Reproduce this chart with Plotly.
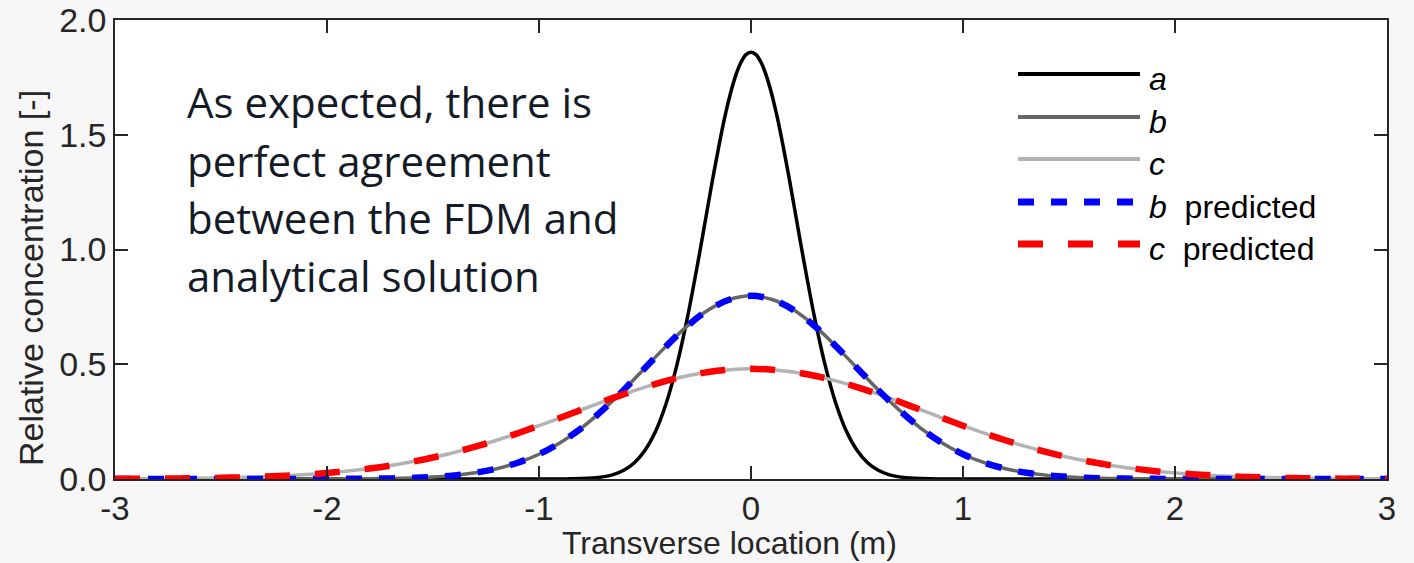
import plotly.graph_objects as go

# ---------------- data ----------------
x_a = [-3.0, -1.0, -0.95, -0.9, -0.85, -0.8, -0.75, -0.7, -0.65, -0.6, -0.55, -0.5,
       -0.45, -0.4, -0.35, -0.3, -0.25, -0.2, -0.175, -0.15, -0.125, -0.1, -0.075,
       -0.05, -0.025, 0.0, 0.025, 0.05, 0.075, 0.1, 0.125, 0.15, 0.175, 0.2,
       0.25, 0.3, 0.35, 0.4, 0.45, 0.5, 0.55, 0.6,
       0.65, 0.7, 0.75, 0.8, 0.85, 0.9, 0.95, 1.0, 3.0]
y_a = [0.0, 0.0, 0.0001, 0.0003, 0.0007, 0.0018, 0.0043, 0.0093, 0.0193, 0.038, 0.0707, 0.125,
       0.208, 0.330, 0.495, 0.703, 0.946, 1.207, 1.336, 1.458, 1.571, 1.669, 1.750,
       1.810, 1.848, 1.860, 1.848, 1.810, 1.750, 1.669, 1.571, 1.458, 1.336, 1.207,
       0.946, 0.703, 0.495, 0.330, 0.208, 0.125, 0.0707, 0.038,
       0.0193, 0.0093, 0.0043, 0.0018, 0.0007, 0.0003, 0.0001, 0.0, 0.0]

x_bc = [-3.0, -2.9, -2.8, -2.7, -2.6, -2.5, -2.4, -2.3, -2.2, -2.1, -2.0,
        -1.9, -1.8, -1.7, -1.6, -1.5, -1.4, -1.3, -1.2, -1.1, -1.0,
        -0.9, -0.8, -0.7, -0.6, -0.5, -0.4, -0.3, -0.2, -0.1, 0.0,
        0.1, 0.2, 0.3, 0.4, 0.5, 0.6, 0.7, 0.8, 0.9, 1.0,
        1.1, 1.2, 1.3, 1.4, 1.5, 1.6, 1.7, 1.8, 1.9, 2.0,
        2.1, 2.2, 2.3, 2.4, 2.5, 2.6, 2.7, 2.8, 2.9, 3.0]

y_b = [0.0, 0.0, 0.0, 0.0, 0.0, 0.0, 0.0, 0.0, 0.0, 0.0001, 0.0003,
       0.0006, 0.0012, 0.0025, 0.0048, 0.0089, 0.0158, 0.0272, 0.0448, 0.0710, 0.108,
       0.158, 0.222, 0.300, 0.388, 0.484, 0.579, 0.667, 0.737, 0.782, 0.798,
       0.782, 0.737, 0.667, 0.579, 0.484, 0.388, 0.300, 0.222, 0.158, 0.108,
       0.0710, 0.0448, 0.0272, 0.0158, 0.0089, 0.0048, 0.0025, 0.0012, 0.0006, 0.0003,
       0.0001, 0.0, 0.0, 0.0, 0.0, 0.0, 0.0, 0.0, 0.0, 0.0]

y_c = [0.0007, 0.0011, 0.0016, 0.0024, 0.0036, 0.0051, 0.0073, 0.0103, 0.0143, 0.0196, 0.0263,
       0.0350, 0.0457, 0.0589, 0.0749, 0.0938, 0.1157, 0.1408, 0.1688, 0.1995, 0.2323,
       0.2667, 0.3017, 0.3364, 0.3696, 0.4004, 0.4274, 0.4497, 0.4663, 0.4765, 0.480,
       0.4765, 0.4663, 0.4497, 0.4274, 0.4004, 0.3696, 0.3364, 0.3017, 0.2667, 0.2323,
       0.1995, 0.1688, 0.1408, 0.1157, 0.0938, 0.0749, 0.0589, 0.0457, 0.0350, 0.0263,
       0.0196, 0.0143, 0.0103, 0.0073, 0.0051, 0.0036, 0.0024, 0.0016, 0.0011, 0.0007]

# predicted (analytical) profiles coincide with the FDM results
y_b_pred = [0.0, 0.0, 0.0, 0.0, 0.0, 0.0, 0.0, 0.0, 0.0, 0.0001, 0.0003,
            0.0006, 0.0012, 0.0025, 0.0048, 0.0089, 0.0158, 0.0272, 0.0448, 0.0710, 0.108,
            0.158, 0.222, 0.300, 0.388, 0.484, 0.579, 0.667, 0.737, 0.782, 0.798,
            0.782, 0.737, 0.667, 0.579, 0.484, 0.388, 0.300, 0.222, 0.158, 0.108,
            0.0710, 0.0448, 0.0272, 0.0158, 0.0089, 0.0048, 0.0025, 0.0012, 0.0006, 0.0003,
            0.0001, 0.0, 0.0, 0.0, 0.0, 0.0, 0.0, 0.0, 0.0, 0.0]
y_c_pred = list(y_c)

x_ticks = [-3, -2, -1, 0, 1, 2, 3]
y_ticks = [0.0, 0.5, 1.0, 1.5, 2.0]

series_names = ["<i>a</i>", "<i>b</i>", "<i>c</i>", "<i>b</i>  predicted", "<i>c</i>  predicted"]
x_title = "Transverse location (m)"
y_title = "Relative concentration [-]"

# ---------------- styling ----------------
W, H = 1414, 563
ML, MR, MT, MB = 115, 27, 20, 84
PW, PH = W - ML - MR, H - MT - MB
AXIS_COL = "#262626"
FONT = "Liberation Sans, Arial, sans-serif"

styles = [
    dict(color="#000000", width=3.5, dash="solid"),
    dict(color="#666666", width=3.5, dash="solid"),
    dict(color="#b3b3b3", width=3.5, dash="solid"),
    dict(color="#0000ff", width=6.5, dash="16px,17px"),
    dict(color="#ff0000", width=6.5, dash="25px,25px"),
]

fig = go.Figure()
data = [(x_a, y_a), (x_bc, y_b), (x_bc, y_c), (x_bc, y_b_pred), (x_bc, y_c_pred)]
for (xs, ys), st, nm in zip(data, styles, series_names):
    fig.add_trace(go.Scatter(x=xs, y=ys, mode="lines", name=nm,
                             line=dict(color=st["color"], width=st["width"], dash=st["dash"],
                                       shape="spline", smoothing=1.0),
                             showlegend=False, hoverinfo="skip"))


def px2paper(px, py):
    return (px - ML) / PW, (H - MB - py) / PH


shapes = []
annotations = []

# manual legend (long line samples as in the reference)
row_y = [74, 117, 159, 202, 244]
for st, nm, ry in zip(styles, series_names, row_y):
    x0, y0 = px2paper(1018, ry)
    x1, _ = px2paper(1140, ry)
    shapes.append(dict(type="line", xref="paper", yref="paper", x0=x0, x1=x1, y0=y0, y1=y0,
                       line=dict(color=st["color"], width=st["width"] + 0.5, dash=st["dash"])))
    tx, ty = px2paper(1147, ry + 5)
    annotations.append(dict(text=nm.replace("  ", "&nbsp; "), xref="paper", yref="paper",
                            x=tx, y=ty, xanchor="left", yanchor="middle", showarrow=False,
                            font=dict(family=FONT, size=32, color="#000000")))

# comment text
note_lines = ["As expected, there is", "perfect agreement",
              "between the FDM and", "analytical solution"]
note_centers = [102, 160, 217, 275]
for line, cy in zip(note_lines, note_centers):
    tx, ty = px2paper(185, cy)
    annotations.append(dict(text=line, xref="paper", yref="paper", x=tx, y=ty,
                            xanchor="left", yanchor="middle", showarrow=False,
                            font=dict(family="Open Sans, sans-serif", size=42, color="#141b27")))

# axis titles (placed as in the reference, slightly off-centre)
tx, ty = px2paper(729, 562)
annotations.append(dict(text=x_title, xref="paper", yref="paper", x=tx, y=ty,
                        xanchor="center", yanchor="bottom", showarrow=False, borderpad=0,
                        font=dict(family=FONT, size=32, color=AXIS_COL)))
tx, ty = px2paper(31, 278)
annotations.append(dict(text=y_title, xref="paper", yref="paper", x=tx, y=ty, textangle=-90,
                        xanchor="center", yanchor="middle", showarrow=False,
                        font=dict(family=FONT, size=34, color=AXIS_COL)))

fig.update_layout(
    width=W, height=H,
    margin=dict(l=ML, r=MR, t=MT, b=MB, pad=0, autoexpand=False),
    paper_bgcolor="#f7f7f7",
    plot_bgcolor="#ffffff",
    shapes=shapes,
    annotations=annotations,
    showlegend=False,
    font=dict(family=FONT, size=33, color=AXIS_COL),
)
fig.update_xaxes(range=[-3, 3], tickvals=x_ticks, ticktext=[str(v) for v in x_ticks],
                 ticks="inside", ticklen=13, tickwidth=1.5, tickcolor=AXIS_COL,
                 showline=True, linecolor=AXIS_COL, linewidth=1.5, mirror="ticks",
                 showgrid=False, zeroline=False, automargin=False,
                 tickfont=dict(family=FONT, size=33, color=AXIS_COL))
fig.update_yaxes(range=[0, 2], tickvals=y_ticks, ticktext=[f"{v:.1f}" for v in y_ticks],
                 ticks="inside", ticklen=13, tickwidth=1.5, tickcolor=AXIS_COL,
                 showline=True, linecolor=AXIS_COL, linewidth=1.5, mirror="ticks",
                 showgrid=False, zeroline=False, automargin=False,
                 tickfont=dict(family=FONT, size=34, color=AXIS_COL))

fig.write_html("out.html")
